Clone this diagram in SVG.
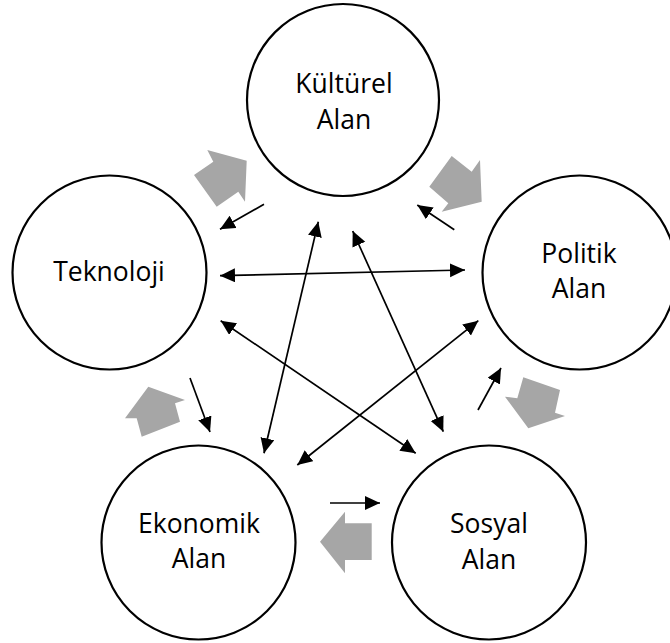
<svg xmlns="http://www.w3.org/2000/svg" width="670" height="643" viewBox="0 0 670 643">
<defs>
<style>
.node circle{fill:#fff;stroke:#000;stroke-width:2.2}
.node text{font-family:"Open Sans","Noto Sans",sans-serif;font-size:26.5px;fill:#000;text-anchor:middle}
.c line{stroke:#000;stroke-width:1.7;fill:none}
.bi{marker-start:url(#ah);marker-end:url(#ah)}
.one{marker-end:url(#ah)}
.blk{fill:#a6a6a6;stroke:none}
</style>
<marker id="ah" markerUnits="userSpaceOnUse" markerWidth="16" markerHeight="15" refX="15" refY="7" orient="auto-start-reverse" viewBox="0 0 16 15">
<path d="M0,0 L15,7 L0,14 z" fill="#000"/>
</marker>
</defs>
<rect width="670" height="643" fill="#fff"/>

<g id="kulturel" class="node">
<circle cx="343" cy="100" r="96"/>
<text x="344" y="93">Kültürel</text>
<text x="344" y="129">Alan</text>
</g>
<g id="teknoloji" class="node">
<circle cx="109.5" cy="272.5" r="97"/>
<text x="109" y="281">Teknoloji</text>
</g>
<g id="politik" class="node">
<circle cx="579.5" cy="272.5" r="97"/>
<text x="579" y="263">Politik</text>
<text x="579" y="298">Alan</text>
</g>
<g id="ekonomik" class="node">
<circle cx="198.5" cy="542.5" r="97"/>
<text x="199" y="533">Ekonomik</text>
<text x="199" y="568">Alan</text>
</g>
<g id="sosyal" class="node">
<circle cx="489" cy="542.5" r="97"/>
<text x="489" y="533">Sosyal</text>
<text x="489" y="569">Alan</text>
</g>

<g id="connectors" class="c">
<line class="bi" x1="220" y1="275.7" x2="465" y2="270"/>
<line class="bi" x1="220.7" y1="320.7" x2="415.7" y2="453.3"/>
<line class="bi" x1="318.3" y1="221.7" x2="264" y2="453.3"/>
<line class="bi" x1="352.7" y1="231" x2="443.3" y2="431.7"/>
<line class="bi" x1="478.3" y1="320.7" x2="297.3" y2="465"/>
<line class="one" x1="264" y1="204.3" x2="220" y2="229.3"/>
<line class="one" x1="454.3" y1="229.7" x2="417.3" y2="205"/>
<line class="one" x1="478" y1="410" x2="501" y2="368"/>
<line class="one" x1="330" y1="503" x2="380" y2="503"/>
<line class="one" x1="190" y1="378" x2="210" y2="432"/>
</g>

<g id="block-arrows">
<polygon class="blk" points="246.7,160.7 245,201.7 238.3,191.7 216.7,206.7 194,175 213.3,161.7 207.3,150"/>
<polygon class="blk" points="451.7,156 471.7,171.7 480,160 481.7,201.7 441.7,211.7 448.3,203.3 429.3,186.7"/>
<polygon class="blk" points="523.3,377.3 560,390 555,412.7 565,416 528.3,428.3 505,396.7 517.3,398.3"/>
<polygon class="blk" points="320,541.7 345,511.7 345,523.3 371.7,523.3 371.7,560 345,560 345,573.3"/>
<polygon class="blk" points="148.3,386.7 185,400 175,403.3 180,421.7 141.7,436.7 136.7,418.3 125,418.3"/>
</g>
</svg>
